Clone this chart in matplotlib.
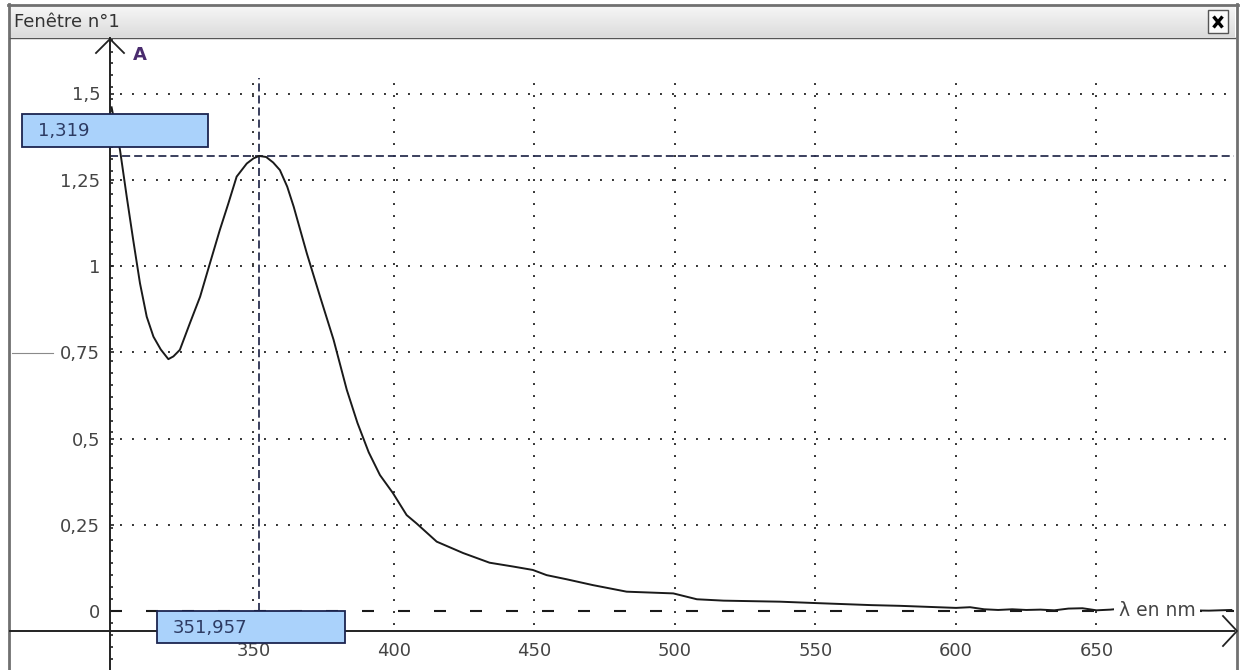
import numpy as np
import matplotlib.pyplot as plt
from matplotlib.patches import Rectangle
from matplotlib.ticker import MultipleLocator
from matplotlib.colors import LinearSegmentedColormap

plt.rcParams['font.family'] = ['DejaVu Sans']
plt.rcParams['lines.scale_dashes'] = False

wl = [299.5, 302.5, 304.9, 307.2, 309.6, 312.0, 314.4, 317.0, 319.7, 321.5,
      323.8, 327.4, 331.0, 334.5, 338.0, 341.0, 344.0, 347.6, 350.0, 352.0,
      354.5, 357.0, 359.4, 362.0, 364.3, 369.0, 373.7, 378.5, 383.2, 387.0,
      391.0, 395.0, 399.6, 404.5, 408.0, 415.2, 424.6, 434.0, 442.3, 449.4,
      454.3, 461.4, 470.8, 482.8, 499.4, 507.8, 517.3, 537.4, 550, 560,
      570, 580, 590, 600, 605, 610, 615, 620, 625, 630,
      635, 640, 645, 650, 655, 660, 665, 670, 680, 690, 698]
absb = [1.46, 1.336, 1.20, 1.075, 0.95, 0.853, 0.795, 0.758, 0.730, 0.738,
        0.757, 0.835, 0.911, 1.008, 1.104, 1.18, 1.259, 1.297, 1.312, 1.319,
        1.316, 1.300, 1.278, 1.23, 1.172, 1.036, 0.911, 0.786, 0.641, 0.545,
        0.46, 0.394, 0.342, 0.278, 0.254, 0.201, 0.168, 0.140, 0.129, 0.119,
        0.104, 0.092, 0.075, 0.056, 0.051, 0.034, 0.030, 0.027, 0.023, 0.020,
        0.017, 0.015, 0.012, 0.009, 0.011, 0.005, 0.003, 0.005, 0.003, 0.004,
        0.002, 0.007, 0.008, 0.002, 0.004, 0.008, 0.005, 0.002, 0.002, 0.001, 0.003]

xticks = [350, 400, 450, 500, 550, 600, 650]
yticks = [0, 0.25, 0.5, 0.75, 1, 1.25, 1.5]
ylabels = ['0', '0,25', '0,5', '0,75', '1', '1,25', '1,5']

# curseur
cur_x = 351.957
cur_y = 1.319

W, H = 1241, 670

# correspondance pixels -> valeurs
def lam(px):
    return 350 + (px - 253.5) / 2.81

def absv(py):
    return (611 - py) / 345

fig = plt.figure(figsize=(W / 100, H / 100), dpi=100, facecolor='white')

# fond : fenêtre
bg = fig.add_axes([0, 0, 1, 1], zorder=0)
cmap = LinearSegmentedColormap.from_list('bar', ['#f6f6f6', '#dcdcdc'])
bg.imshow(np.linspace(0, 1, 50).reshape(-1, 1), cmap=cmap, aspect='auto',
          extent=[10, 1235, 37, 6])
bg.set_xlim(0, W)
bg.set_ylim(H, 0)
bg.axis('off')
bg.plot([9, 9], [4, H], color='#707070', lw=2)
bg.plot([8, 1238], [5, 5], color='#707070', lw=2)
bg.plot([1236.5, 1236.5], [4, H], color='#707070', lw=2)
bg.plot([10, 1235], [37.5, 37.5], color='#555555', lw=1)
bg.text(14, 22, 'Fenêtre n°1', va='center', ha='left', fontsize=13, color='#333333')
bg.add_patch(Rectangle((1208, 10), 20, 23, fc='#fafafa', ec='#555555', lw=1))
bg.plot([1213.5, 1222.5], [16.5, 27.5], color='black', lw=2.4, solid_capstyle='butt')
bg.plot([1213.5, 1222.5], [27.5, 16.5], color='black', lw=2.4, solid_capstyle='butt')
# flèches des axes
bg.plot([96, 110, 124], [53, 39, 53], color='#222222', lw=1.3)
bg.plot([1223, 1237, 1223], [616, 631, 646], color='#222222', lw=1.3)
bg.plot([12, 53], [353, 353], color='#8a8a8a', lw=0.8)
bg.text(133, 55, 'A', fontweight='bold', fontsize=13, color='#4a2c6e', va='center')

# zone graphique
ax = fig.add_axes([10 / W, 0, (1234 - 10) / W, (H - 38) / H], zorder=1)
ax.patch.set_alpha(0)
ax.set_xlim(lam(10), lam(1234))
ax.set_ylim(absv(H), absv(38))
for s in ['top', 'right']:
    ax.spines[s].set_visible(False)
ax.spines['left'].set_position(('data', lam(110)))
ax.spines['bottom'].set_position(('data', absv(631)))
for s in ['left', 'bottom']:
    ax.spines[s].set_color('#222222')
    ax.spines[s].set_linewidth(1.4)

ax.set_xticks(xticks, [str(v) for v in xticks])
ax.set_yticks(yticks, ylabels)
ax.yaxis.set_minor_locator(MultipleLocator(0.0345))
ax.tick_params(axis='x', length=0, pad=8, labelsize=13, labelcolor='#444444')
ax.tick_params(axis='y', which='major', direction='in', length=3, width=1.2,
               color='#222222', pad=7, labelsize=13, labelcolor='#444444')
ax.tick_params(axis='y', which='minor', direction='in', length=2.5, width=1.2,
               color='#222222')

dots = (0, (1.4, 7.24))
ax.hlines(yticks[1:], lam(120), lam(1234), linestyles=dots, lw=1.4, color='#333333')
ax.vlines(xticks, absv(625), absv(78), linestyles=dots, lw=1.4, color='#333333')
ax.hlines(0, lam(110), lam(1234), linestyles=(0, (8.64, 17.28)), lw=1.5, color='#1a1a1a')

# curseur
cdash = (0, (5.8, 2.9))
ax.hlines(cur_y, lam(110), lam(1234), linestyles=cdash, lw=1.3, color='#2b3050')
ax.vlines(cur_x, 0, absv(78), linestyles=cdash, lw=1.3, color='#2b3050')

ax.plot(wl, absb, color='#1a1a1a', lw=1.4, zorder=3)

ax.text(lam(1157), 0, 'λ en nm', ha='center', va='center', fontsize=13.5,
        color='#444444', zorder=4,
        bbox=dict(boxstyle='square,pad=0.25', fc='white', ec='none'))

box_fc = '#aad2fb'
box_ec = '#1c2550'
bx0 = cur_x - 36.3
ax.add_patch(Rectangle((bx0, -0.0928), 66.9, 0.0928, fc=box_fc, ec=box_ec,
                       lw=1.3, zorder=5, clip_on=False))
ax.text(bx0 + 5.7, -0.0500, f'{cur_x:.3f}'.replace('.', ','), ha='left', va='center',
        fontsize=13, color='#2d3b63', zorder=6)
by0 = cur_y + 0.026
ax.add_patch(Rectangle((lam(22), by0), lam(208) - lam(22), 0.0957, fc=box_fc,
                       ec=box_ec, lw=1.3, zorder=5, clip_on=False))
ax.text(lam(38), by0 + 0.046, f'{cur_y:.3f}'.replace('.', ','), ha='left', va='center',
        fontsize=13, color='#2d3b63', zorder=6)

fig.savefig('out.png', dpi=100)
